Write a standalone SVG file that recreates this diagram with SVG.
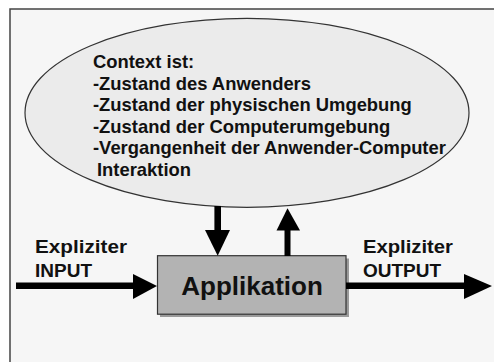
<svg xmlns="http://www.w3.org/2000/svg" width="494" height="362" viewBox="0 0 494 362">
<style>
text{font-family:"Liberation Sans",Arial,sans-serif;font-weight:bold;fill:#111}
.ctx{font-size:18.4px}
.lbl{font-size:19px}
.app{font-size:26px}
.arr{fill:#000}
</style>
<rect x="0" y="0" width="494" height="362" fill="#fff"/>
<rect x="10" y="9" width="500" height="370" fill="#f6f6f6" stroke="#444" stroke-width="1.5"/>
<g id="context">
<ellipse cx="247" cy="112.8" rx="222" ry="94.5" fill="#ebebeb" stroke="#333" stroke-width="1.2"/>
<text class="ctx" x="93" y="68">Context ist:</text>
<text class="ctx" x="93" y="89.5">-Zustand des Anwenders</text>
<text class="ctx" x="93" y="111">-Zustand der physischen Umgebung</text>
<text class="ctx" x="93" y="132.5">-Zustand der Computerumgebung</text>
<text class="ctx" x="93" y="154">-Vergangenheit der Anwender-Computer</text>
<text class="ctx" x="97" y="175.5">Interaktion</text>
</g>
<g id="applikation">
<rect x="160" y="258.5" width="189" height="58.5" fill="#9a9a9a"/>
<rect x="157.5" y="255.7" width="188.5" height="58.5" fill="#b3b3b3" stroke="#333" stroke-width="1.2"/>
<text class="app" x="252" y="295" text-anchor="middle">Applikation</text>
</g>
<g id="input-label">
<text class="lbl" x="35" y="253" textLength="92" lengthAdjust="spacingAndGlyphs">Expliziter</text>
<text class="lbl" x="35" y="277">INPUT</text>
</g>
<g id="output-label">
<text class="lbl" x="363" y="253" textLength="90" lengthAdjust="spacingAndGlyphs">Expliziter</text>
<text class="lbl" x="363" y="277">OUTPUT</text>
</g>
<g id="connectors">
<rect class="arr" x="16" y="282.5" width="118" height="6.5"/>
<polygon class="arr" points="133,274 157,286 133,299"/>
<rect class="arr" x="346" y="282.5" width="119" height="6.5"/>
<polygon class="arr" points="464,274 492,286 464,299"/>
<rect class="arr" x="214.4" y="206" width="6.6" height="25"/>
<polygon class="arr" points="205,230 230,230 217.7,255.7"/>
<rect class="arr" x="284.5" y="229" width="6" height="27"/>
<polygon class="arr" points="276.5,230.5 300,230.5 287.5,208.3"/>
</g>
</svg>
